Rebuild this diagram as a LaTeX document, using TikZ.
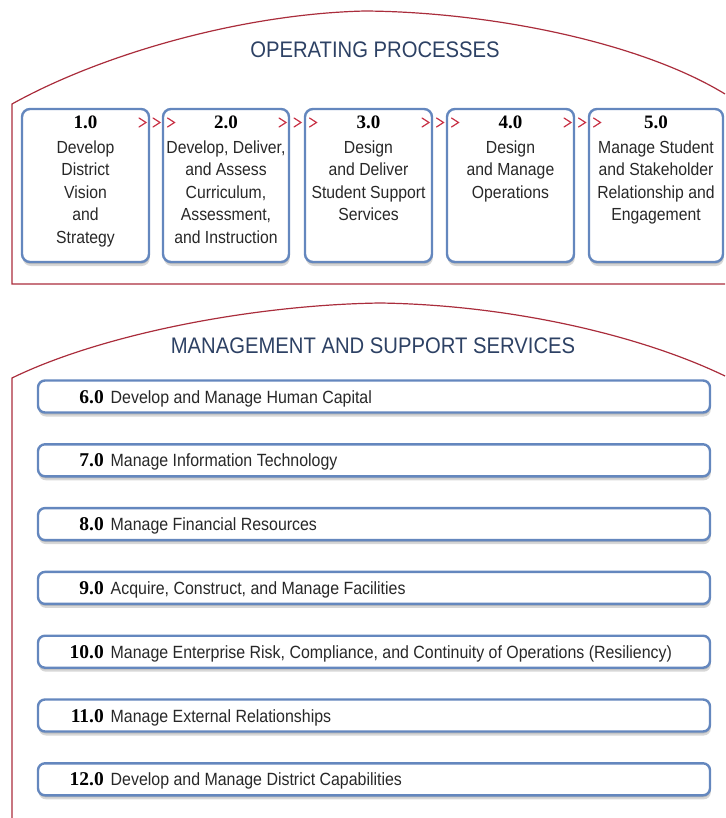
\documentclass[tikz,border=0pt]{standalone}
\usepackage{fontspec}
\setmainfont{Liberation Sans}
\newfontfamily\condfont[FakeStretch=0.9]{Liberation Sans}
\newfontfamily\numserif{Liberation Serif}
\usetikzlibrary{shadows}
\definecolor{framered}{RGB}{170,45,60}
\definecolor{chevred}{RGB}{200,50,70}
\definecolor{boxblue}{RGB}{100,135,190}
\definecolor{titleblue}{RGB}{45,65,100}
\definecolor{bodytext}{RGB}{40,40,40}
\tikzset{
  frameline/.style={draw=framered, line width=1.2pt},
  boxshadow/.style={double copy shadow={shadow xshift=0.4pt, shadow yshift=-2pt, fill=black!45, opacity=0.35, draw=none}},
  opbox/.style={draw=boxblue, line width=2.4pt, rounded corners=8pt, fill=white, boxshadow, inner sep=0pt},
  barbox/.style={draw=boxblue, line width=2.4pt, rounded corners=7pt, fill=white, boxshadow, inner sep=0pt, minimum width=672pt, minimum height=32pt},
  optext/.style={anchor=north, inner sep=0pt, align=center, text=bodytext, font=\condfont\fontsize{17.5}{22.5}\selectfont},
  opnum/.style={anchor=base, inner sep=0pt, text=black, font=\numserif\bfseries\fontsize{19}{21}\selectfont},
  barnum/.style={anchor=base east, inner sep=0pt, text=black, font=\numserif\bfseries\fontsize{19.5}{21}\selectfont},
  bartext/.style={anchor=base west, inner sep=0pt, text=bodytext, font=\condfont\fontsize{17.7}{21}\selectfont},
  sectitle/.style={anchor=base, inner sep=0pt, text=titleblue, font=\condfont\fontsize{22.5}{26}\selectfont},
  chevron/.style={draw=chevred, line width=1.2pt, line cap=round, line join=miter}
}
\begin{document}
\begin{tikzpicture}[x=1pt, y=-1pt]
\useasboundingbox (0,0) rectangle (725,818);
% frames
\draw[frameline] (725,284) -- (12,284) -- (12,104)
  .. controls (100,55) and (240,14) .. (365,11)
  .. controls (490,12) and (640,42) .. (725,94);
\draw[frameline] (12,818) -- (12,378)
  .. controls (100,335) and (250,305) .. (380,303)
  .. controls (510,305) and (640,335) .. (725,376);
% titles
\node[sectitle] (t1) at (375,58) {OPERATING PROCESSES};
\node[sectitle] (t2) at (373,353) {MANAGEMENT AND SUPPORT SERVICES};
% operating process boxes
\node[opbox, minimum width=127pt, minimum height=153pt] (b1) at (85.5,185.5) {};
\node[opbox, minimum width=126pt, minimum height=153pt] (b2) at (226,185.5) {};
\node[opbox, minimum width=127pt, minimum height=153pt] (b3) at (368.5,185.5) {};
\node[opbox, minimum width=127pt, minimum height=153pt] (b4) at (510.5,185.5) {};
\node[opbox, minimum width=134pt, minimum height=153pt] (b5) at (656,185.5) {};
% numbers
\node[opnum] (n1) at (85.5,128.5) {1.0};
\node[opnum] (n2) at (226,128.5) {2.0};
\node[opnum] (n3) at (368.5,128.5) {3.0};
\node[opnum] (n4) at (510.5,128.5) {4.0};
\node[opnum] (n5) at (656,128.5) {5.0};
% texts
\node[optext] (x1) at (85.5,137.5) {\strut Develop\\District\\Vision\\and\\Strategy};
\node[optext] (x2) at (226,137.5) {\strut Develop, Deliver,\\and Assess\\Curriculum,\\Assessment,\\and Instruction};
\node[optext] (x3) at (368.5,137.5) {\strut Design\\and Deliver\\Student Support\\Services};
\node[optext] (x4) at (510.5,137.5) {\strut Design\\and Manage\\Operations};
\node[optext] (x5) at (656,137.5) {\strut Manage Student\\and Stakeholder\\Relationship and\\Engagement};
% chevrons
\foreach \r/\l in {149/163, 289/305, 432/447, 574/589}{
  \foreach \c in {\r-6.5, (\r+\l)/2+0.5, \l+8}{
    \pgfmathsetmacro{\cx}{\c}
    \draw[chevron] (\cx-3.5,118) -- (\cx+3.5,122.5) -- (\cx-3.5,127);
  }
}
% management bars
\foreach \n/\t [count=\i from 0] in {
  6.0/{Develop and Manage Human Capital},
  7.0/{Manage Information Technology},
  8.0/{Manage Financial Resources},
  9.0/{Acquire, Construct, and Manage Facilities},
  10.0/{Manage Enterprise Risk, Compliance, and Continuity of Operations (Resiliency)},
  11.0/{Manage External Relationships},
  12.0/{Develop and Manage District Capabilities}}{
  \pgfmathsetmacro{\yc}{396.5+63.8*\i}
  \pgfmathsetmacro{\yb}{\yc+6.5}
  \node[barbox] (m\i) at (374,\yc) {};
  \node[barnum] (mn\i) at (104,\yb) {\n};
  \node[bartext] (mt\i) at (110.5,\yb) {\t};
}
\end{tikzpicture}
\end{document}
